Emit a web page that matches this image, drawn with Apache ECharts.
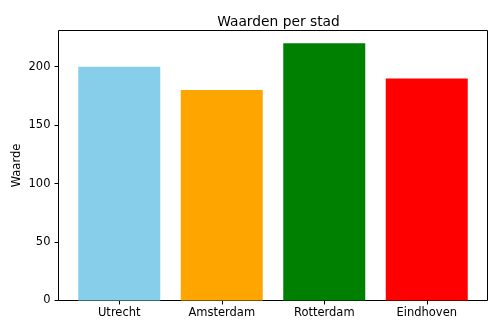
<!DOCTYPE html>
<html>
<head>
<meta charset="utf-8">
<script src="https://cdn.jsdelivr.net/npm/echarts@6/dist/echarts.min.js"></script>
<style>html,body{margin:0;padding:0;background:#fff}#c{width:500px;height:333px}</style>
</head>
<body>
<div id="c"></div>
<script>
const categories = ['Utrecht', 'Amsterdam', 'Rotterdam', 'Eindhoven'];
const values = [200, 180, 220, 190];
const barColors = ['#87CEEB', '#FFA500', '#008000', '#FF0000'];
const yTicks = [0, 50, 100, 150, 200];

const chart = echarts.init(document.getElementById('c'), null, {renderer: 'canvas'});
const font = 'DejaVu Sans';
chart.setOption({
  animation: false,
  backgroundColor: '#fff',
  title: {
    text: 'Waarden per stad',
    left: 273.5, top: 10, textAlign: 'center',
    textStyle: {fontFamily: font, fontSize: 13.8, fontWeight: 'normal', color: '#000'}
  },
  grid: [
    {left: 58.5, right: 12.5, top: 30.5, bottom: 32.5, show: true, borderColor: '#000', borderWidth: 1, backgroundColor: 'transparent'},
    {left: 68, right: 22, top: 30.5, bottom: 32.5}
  ],
  xAxis: [
    {gridIndex: 0, type: 'value', min: 0, max: 1, show: false},
    {gridIndex: 1, type: 'category', data: categories,
      axisLine: {show: false},
      axisTick: {show: true, alignWithLabel: true, length: 4, lineStyle: {color: '#000'}},
      axisLabel: {fontFamily: font, fontSize: 11.5, color: '#000', margin: 7}
    }
  ],
  yAxis: [
    {gridIndex: 0, type: 'value', min: 0, max: 231,
      name: 'Waarde', nameLocation: 'middle', nameGap: 35, nameMoveOverlap: false,
      nameTextStyle: {fontFamily: font, fontSize: 11.5, color: '#000'},
      axisLine: {show: false},
      axisTick: {show: true, length: 4, customValues: yTicks, lineStyle: {color: '#000'}},
      splitLine: {show: false},
      axisLabel: {fontFamily: font, fontSize: 11.5, color: '#000', margin: 8, customValues: yTicks}
    },
    {gridIndex: 1, type: 'value', min: 0, max: 231, show: false}
  ],
  series: [{
    type: 'bar', xAxisIndex: 1, yAxisIndex: 1,
    barWidth: 82,
    data: values.map((v, i) => ({value: v, itemStyle: {color: barColors[i]}}))
  }]
});
</script>
</body>
</html>
